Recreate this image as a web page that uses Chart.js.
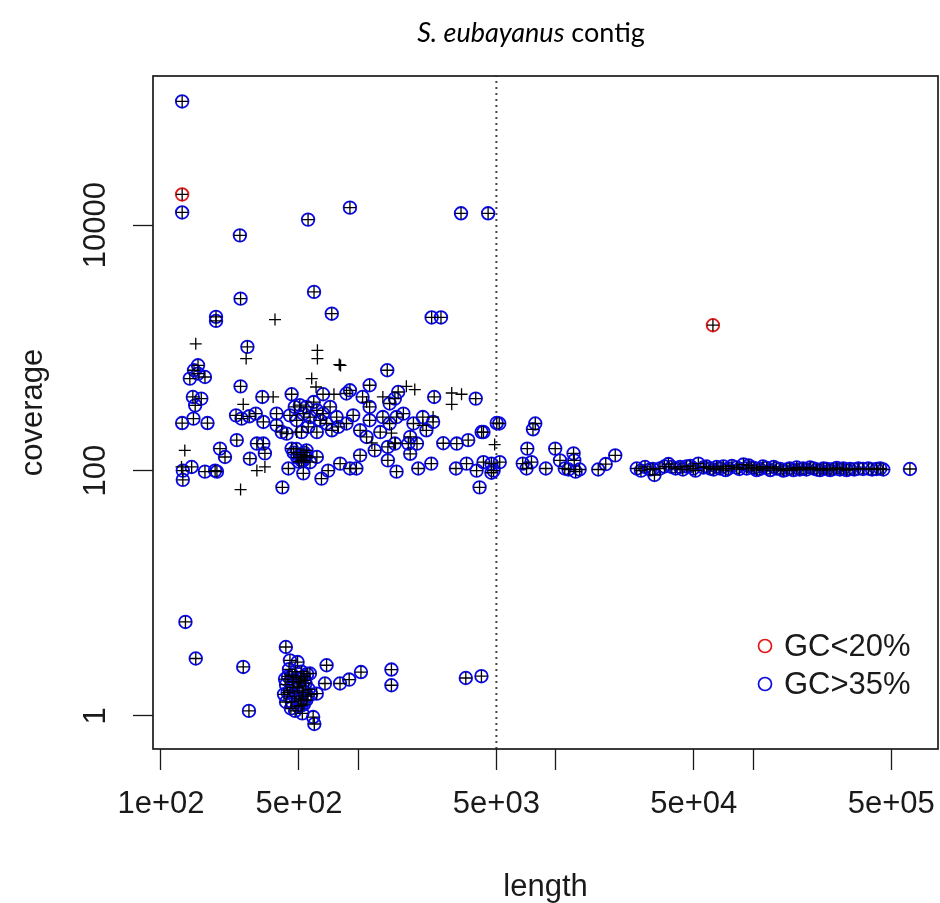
<!DOCTYPE html>
<html>
<head>
<meta charset="utf-8">
<script src="https://cdn.jsdelivr.net/npm/chart.js@4.4.1/dist/chart.umd.min.js"></script>
<style>
  html, body { margin: 0; padding: 0; background: #ffffff; }
  #wrap { width: 940px; height: 903px; position: relative; }
  canvas { display: block; }
</style>
</head>
<body>
<div id="wrap"><canvas id="chart" width="940" height="903"></canvas></div>
<script>
// ---------------- DATA ----------------
const chartTitleItalic = 'S. eubayanus';
const chartTitleRest = ' contig';
const xAxisTitle = 'length';
const yAxisTitle = 'coverage';

const xTickValues = [100, 500, 1000, 5000, 10000, 50000, 100000, 500000];
const xTickLabels = ['1e+02', '5e+02', '', '5e+03', '', '5e+04', '', '5e+05'];
const yTickValues = [1, 100, 10000];
const yTickLabels = ['1', '100', '10000'];

const xRange = [91.1, 863000];
const yRange = [0.538, 164400];
const cutoffLength = 5000;

// GC>35% (blue circles) — high coverage contigs
const blueHighLength   = [128, 128, 251, 556, 906, 3310, 4540, 253, 596, 733, 190, 190, 2350, 2620, 274];
const blueHighCoverage = [102000, 12700, 8260, 11100, 13900, 12500, 12500, 2520, 2860, 1900, 1790, 1660, 1770, 1770, 1020];

// GC>35% — short contigs, coverage ~200-1000
const blueMidLength = [1400, 154, 147, 140, 154, 167, 253, 145, 160, 149,
  326, 459, 662, 906, 870, 1140, 1050, 1590, 1530, 1440,
  2420, 3930, 5020, 128, 146, 172, 240, 256, 280, 302,
  330, 385, 385, 409, 433, 505, 546, 594, 526, 569,
  616, 640, 487, 450, 690, 734, 776, 557, 515, 616,
  662, 476, 719, 790, 870, 941, 1020, 1140, 1290, 1330,
  1440, 1560, 1690, 1900, 2120, 2210, 2390, 1140, 4210];
const blueMidCoverage = [657, 721, 657, 562, 617, 579, 486, 398, 386, 340,
  398, 419, 419, 451, 425, 496, 398, 437, 386, 352,
  398, 386, 244, 244, 265, 244, 282, 265, 277, 291,
  249, 291, 234, 206, 200, 341, 330, 362, 291, 273,
  310, 257, 257, 282, 242, 213, 273, 227, 206, 206,
  291, 330, 330, 227, 242, 282, 213, 257, 206, 273,
  242, 273, 291, 242, 273, 213, 249, 330, 206];

// GC>35% — short contigs, coverage ~70-200
const blueNearLength = [242, 306, 330, 199, 211, 282, 336, 442, 459, 536,
  526, 616, 526, 650, 703, 808, 906, 977, 1020, 1210,
  1410, 1530, 1560, 1410, 1790, 1830, 2010, 2340, 2690, 3150,
  3600, 3120, 3530, 3970, 4300, 4840, 4110, 412, 129, 143,
  129, 167, 188, 192, 1100, 1830, 1980, 546, 515, 569,
  546, 470, 490, 510, 485, 500, 530];
const blueNearCoverage = [177, 166, 166, 151, 129, 125, 138, 104, 151, 129,
  121, 129, 95, 86, 100, 114, 104, 104, 133, 146,
  156, 166, 98, 121, 166, 137, 104, 114, 167, 166,
  177, 104, 114, 100, 117, 100, 73, 73, 100, 107,
  84, 98, 100, 98, 188, 188, 166, 133, 121, 117,
  146, 140, 128, 135, 150, 118, 140];

// GC>35% — low coverage contigs
const blueLowLength = [133, 150, 261, 279, 429, 450, 492, 568, 690, 677, 615, 807, 898, 1030, 1470, 1470, 3500, 4200, 515, 520, 590, 598,
  420, 430, 440, 450, 460, 470, 480, 490, 500, 510, 520, 530, 540, 550,
  430, 445, 455, 465, 475, 485, 495, 505, 515, 525, 535, 545, 560, 575,
  425, 438, 462, 478, 498, 512, 528, 555];
const blueLowCoverage = [5.84, 2.94, 2.51, 1.10, 3.65, 2.84, 2.75, 2.22, 2.59, 1.84, 1.52, 1.84, 1.98, 2.28, 2.39, 1.78, 2.04, 2.11, 1.22, 1.05, 0.98, 0.86,
  1.5, 1.8, 2.1, 1.6, 1.3, 1.9, 2.3, 1.7, 1.4, 2.0, 1.6, 1.25, 1.85, 2.2,
  1.3, 2.4, 1.15, 1.7, 1.45, 2.05, 1.2, 1.75, 2.3, 1.55, 1.95, 1.35, 1.65, 1.5,
  2.0, 1.55, 2.15, 1.1, 1.9, 1.35, 2.1, 1.45];

// GC>35% — contigs just right of the cutoff
const blueRightLength   = [5170, 4300, 7870, 7660, 7170, 9930, 10500, 12300, 12400, 4720, 5200, 4720, 6800, 7530, 7110, 8900, 11100, 11600, 12600, 13200, 16400, 17900, 20000, 31600];
const blueRightCoverage = [242, 206, 242, 217, 151, 151, 121, 138, 121, 114, 117, 96, 114, 117, 104, 104, 104, 102, 98, 102, 102, 113, 133, 92];

// GC>35% — long contigs (flat band near coverage 100)
const blueLongLength = [25700, 27000, 28300, 30000, 31000, 33700, 35500, 37200, 38700, 40500,
  42600, 44000, 46000, 48000, 49700, 51000, 52700, 55900, 58000, 60400,
  63000, 65300, 68000, 70600, 72500, 74800, 78000, 82500, 85000, 89200,
  92700, 95000, 98200, 101000, 104000, 108000, 112000, 117000, 122000, 127000,
  131000, 137000, 142000, 148000, 153000, 160000, 166000, 172000, 179000, 186000,
  194000, 202000, 210000, 218000, 227000, 236000, 245000, 255000, 265000, 275000,
  286000, 297000, 309000, 325000, 341000, 360000, 383000, 400000, 422000, 440000,
  456000, 622000];
const blueLongCoverage = [104, 100, 107, 102, 103, 104, 108, 113, 107, 104,
  107, 102, 108, 109, 104, 100, 114, 106, 108, 104,
  102, 107, 104, 108, 101, 104, 109, 106, 103, 112,
  104, 110, 106, 105, 101, 103, 108, 105, 101, 107,
  104, 103, 100, 102, 104, 101, 106, 102, 104, 102,
  106, 104, 102, 101, 104, 103, 101, 103, 105, 102,
  104, 101, 103, 102, 104, 103, 104, 102, 103, 104,
  102, 103];

// GC<20% (red circles)
const redLength   = [128, 62500];
const redCoverage = [17800, 1530];

// 20% <= GC <= 35% (cross only)
const crossOnlyLength   = [378, 150, 270, 620, 620, 800, 812, 580, 610, 261,
  370, 752, 1100, 1330, 1750, 1930, 2970, 3330, 2970, 4900,
  132, 253, 127, 487, 1470, 1540, 1170, 2120, 2390, 336, 306];
const crossOnlyCoverage = [1700, 1080, 818, 955, 818, 731, 720, 562, 480, 347,
  398, 419, 362, 398, 486, 457, 429, 419, 347, 163,
  146, 70, 107, 206, 202, 168, 168, 234, 273, 107, 100];

// ---------------- BUILD ----------------
function pairs(ls, cs) { return ls.map((l, i) => ({ x: l, y: cs[i] })); }

const bluePoints = [].concat(
  pairs(blueHighLength, blueHighCoverage),
  pairs(blueMidLength, blueMidCoverage),
  pairs(blueNearLength, blueNearCoverage),
  pairs(blueLowLength, blueLowCoverage),
  pairs(blueRightLength, blueRightCoverage),
  pairs(blueLongLength, blueLongCoverage)
);
const redPoints = pairs(redLength, redCoverage);
const allPoints = [].concat(bluePoints, redPoints, pairs(crossOnlyLength, crossOnlyCoverage));

const TEXT_COLOR = '#1a1a1a';
const AXIS_FONT_FAMILY = '"Liberation Sans", Arial, sans-serif';
const AXIS_FONT_SIZE = 31;
const BLUE = '#0a0ae6';
const RED = '#e01818';

const PLOT_LEFT = 153, PLOT_TOP = 76, PLOT_RIGHT_PAD = 2, X_AXIS_HEIGHT = 154;
const Y_TICK_LEN = 20, X_TICK_LEN = 21;
const Y_LABEL_CENTER_X = 96;

const measureCtx = document.createElement('canvas').getContext('2d');
measureCtx.font = AXIS_FONT_SIZE + 'px ' + AXIS_FONT_FAMILY;
const widestY = Math.max(...yTickLabels.map(t => measureCtx.measureText(t).width));
const yTickPadding = PLOT_LEFT - Y_TICK_LEN - Y_LABEL_CENTER_X - widestY / 2;

const framePlugin = {
  id: 'plotFrame',
  afterDraw(chart) {
    const { ctx, chartArea: a } = chart;
    ctx.save();
    ctx.strokeStyle = '#1a1a1a';
    ctx.lineWidth = 1.7;
    ctx.strokeRect(a.left, a.top, a.right - a.left, a.bottom - a.top);
    ctx.restore();
  }
};

const titlePlugin = {
  id: 'mixedTitle',
  afterDraw(chart) {
    const { ctx } = chart;
    ctx.save();
    const size = 27;
    const fam = 'Lato, "Open Sans", sans-serif';
    ctx.font = 'italic ' + size + 'px ' + fam;
    const w1 = ctx.measureText(chartTitleItalic).width;
    ctx.font = size + 'px ' + fam;
    const w2 = ctx.measureText(chartTitleRest).width;
    const cx = 531, cy = 33;
    let x = cx - (w1 + w2) / 2;
    ctx.fillStyle = '#000';
    ctx.textBaseline = 'middle';
    ctx.textAlign = 'left';
    ctx.font = 'italic ' + size + 'px ' + fam;
    ctx.fillText(chartTitleItalic, x, cy);
    ctx.font = size + 'px ' + fam;
    ctx.fillText(chartTitleRest, x + w1, cy);
    ctx.restore();
  }
};

const legendPlugin = {
  id: 'insetLegend',
  afterDraw(chart) {
    const { ctx, chartArea: a } = chart;
    const items = chart.data.datasets.filter(d => d.inLegend);
    ctx.save();
    ctx.font = AXIS_FONT_SIZE + 'px ' + AXIS_FONT_FAMILY;
    ctx.textBaseline = 'middle';
    ctx.textAlign = 'left';
    items.forEach((d, i) => {
      const sx = a.right - 173;
      const sy = a.bottom - 103 + i * 38;
      ctx.beginPath();
      ctx.arc(sx, sy, 6.5, 0, Math.PI * 2);
      ctx.strokeStyle = d.borderColor;
      ctx.lineWidth = 1.7;
      ctx.stroke();
      ctx.fillStyle = TEXT_COLOR;
      ctx.fillText(d.label, sx + 19, sy + 1);
    });
    ctx.restore();
  }
};

const axisFont = { family: AXIS_FONT_FAMILY, size: AXIS_FONT_SIZE };

new Chart(document.getElementById('chart'), {
  type: 'scatter',
  data: {
    datasets: [
      {
        label: 'all contigs',
        data: allPoints,
        pointStyle: 'cross',
        pointRadius: 6,
        pointHoverRadius: 6,
        borderColor: '#000',
        backgroundColor: '#000',
        borderWidth: 1.3,
        order: 0
      },
      {
        label: 'GC<20%',
        inLegend: true,
        data: redPoints,
        pointStyle: 'circle',
        pointRadius: 6.3,
        pointHoverRadius: 6.3,
        borderColor: RED,
        backgroundColor: 'rgba(0,0,0,0)',
        borderWidth: 1.8,
        order: 1
      },
      {
        label: 'GC>35%',
        inLegend: true,
        data: bluePoints,
        pointStyle: 'circle',
        pointRadius: 6.3,
        pointHoverRadius: 6.3,
        borderColor: BLUE,
        backgroundColor: 'rgba(0,0,0,0)',
        borderWidth: 1.8,
        order: 2
      },
      {
        label: 'cutoff',
        data: [{ x: cutoffLength, y: yRange[0] }, { x: cutoffLength, y: yRange[1] }],
        showLine: true,
        pointRadius: 0,
        borderColor: '#444',
        borderWidth: 2,
        borderDash: [2, 4],
        order: 3
      }
    ]
  },
  options: {
    responsive: false,
    animation: false,
    devicePixelRatio: 1,
    events: [],
    layout: { autoPadding: false, padding: { top: PLOT_TOP, right: PLOT_RIGHT_PAD, bottom: 0, left: 0 } },
    plugins: { legend: { display: false }, tooltip: { enabled: false }, title: { display: false } },
    scales: {
      x: {
        type: 'logarithmic',
        position: 'bottom',
        min: xRange[0],
        max: xRange[1],
        bounds: 'data',
        afterBuildTicks: s => { s.ticks = xTickValues.map(v => ({ value: v })); },
        afterFit: s => { s.height = X_AXIS_HEIGHT; s.paddingLeft = 0; s.paddingRight = 0; },
        border: { display: false },
        grid: { display: true, drawOnChartArea: false, drawTicks: true, tickLength: X_TICK_LEN, tickColor: '#1a1a1a', tickWidth: 1.3 },
        ticks: {
          autoSkip: false, minRotation: 0, maxRotation: 0, padding: 16,
          color: TEXT_COLOR, font: axisFont,
          callback: (v, i) => xTickLabels[i]
        },
        title: { display: true, text: xAxisTitle, color: TEXT_COLOR, font: axisFont, padding: { top: 0, bottom: -3 } }
      },
      y: {
        type: 'logarithmic',
        position: 'left',
        min: yRange[0],
        max: yRange[1],
        bounds: 'data',
        afterBuildTicks: s => { s.ticks = yTickValues.map(v => ({ value: v })); },
        afterFit: s => { s.width = PLOT_LEFT; s.paddingTop = 0; s.paddingBottom = 0; },
        border: { display: false },
        grid: { display: true, drawOnChartArea: false, drawTicks: true, tickLength: Y_TICK_LEN, tickColor: '#1a1a1a', tickWidth: 1.3 },
        ticks: {
          autoSkip: false, minRotation: 90, maxRotation: 90, crossAlign: 'center', padding: yTickPadding,
          color: TEXT_COLOR, font: axisFont,
          callback: (v, i) => yTickLabels[i]
        },
        title: { display: true, text: yAxisTitle, color: TEXT_COLOR, font: axisFont, padding: { top: 15, bottom: 0 } }
      }
    }
  },
  plugins: [framePlugin, titlePlugin, legendPlugin]
});
</script>
</body>
</html>
